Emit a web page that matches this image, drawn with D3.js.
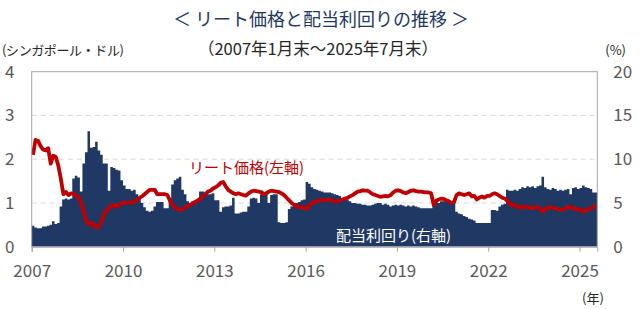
<!DOCTYPE html>
<html>
<head>
<meta charset="utf-8">
<script src="https://cdn.jsdelivr.net/npm/d3@7"></script>
<style>
body { margin: 0; background: #fff; }
text { font-family: "Noto Sans CJK JP", "Noto Sans", sans-serif; }
</style>
</head>
<body>
<svg id="chart" width="644" height="309"></svg>
<script>
// リート価格 (シンガポール・ドル), 月末, 2007年1月～2025年7月
var priceSGD = [
  2.10, 2.44, 2.42, 2.30, 2.22, 2.20, 2.25, 1.90, 2.08, 2.05, 1.85, 1.55, // 2007
  1.20, 1.25, 1.18, 1.22, 1.20, 1.18, 1.12, 1.00, 0.80, 0.60, 0.50, 0.55, // 2008
  0.50, 0.43, 0.47, 0.58, 0.75, 0.82, 0.88, 0.94, 0.95, 0.91, 0.96, 1.00, // 2009
  1.00, 1.00, 1.02, 1.00, 1.02, 1.08, 1.12, 1.15, 1.20, 1.25, 1.30, 1.30, // 2010
  1.30, 1.20, 1.20, 1.20, 1.20, 1.18, 1.05, 0.95, 0.90, 0.86, 0.84, 0.86, // 2011
  0.90, 0.93, 0.95, 1.00, 1.02, 1.06, 1.10, 1.15, 1.20, 1.26, 1.28, 1.33, // 2012
  1.36, 1.40, 1.46, 1.48, 1.38, 1.30, 1.26, 1.22, 1.20, 1.22, 1.20, 1.18, // 2013
  1.17, 1.22, 1.26, 1.28, 1.27, 1.26, 1.25, 1.20, 1.22, 1.26, 1.28, 1.27, // 2014
  1.26, 1.25, 1.22, 1.18, 1.12, 1.06, 1.00, 0.95, 0.92, 0.90, 0.92, 0.88, // 2015
  0.86, 0.95, 1.00, 1.02, 1.04, 1.06, 1.07, 1.07, 1.06, 1.08, 1.06, 1.03, // 2016
  1.03, 1.06, 1.08, 1.10, 1.12, 1.15, 1.18, 1.22, 1.26, 1.27, 1.29, 1.28, // 2017
  1.28, 1.24, 1.20, 1.18, 1.16, 1.14, 1.15, 1.16, 1.15, 1.18, 1.24, 1.28, // 2018
  1.29, 1.27, 1.24, 1.22, 1.25, 1.28, 1.29, 1.27, 1.26, 1.26, 1.25, 1.24, // 2019
  1.24, 1.22, 0.95, 1.05, 1.08, 1.10, 1.09, 1.06, 1.04, 1.00, 1.02, 1.18, // 2020
  1.22, 1.20, 1.18, 1.20, 1.22, 1.15, 1.16, 1.08, 1.12, 1.15, 1.12, 1.16, // 2021
  1.16, 1.20, 1.22, 1.20, 1.16, 1.12, 1.10, 1.05, 0.98, 0.94, 0.95, 0.92, // 2022
  0.89, 0.91, 0.90, 0.92, 0.88, 0.88, 0.90, 0.91, 0.86, 0.80, 0.85, 0.91, // 2023
  0.90, 0.88, 0.88, 0.86, 0.84, 0.85, 0.88, 0.90, 0.92, 0.88, 0.85, 0.86, // 2024
  0.84, 0.80, 0.82, 0.86, 0.88, 0.90, 0.95                                // 2025
];

// 配当利回り (%)
var dividendYield = [
  2.4, 2.2, 2.1, 2.1, 2.3, 2.3, 2.4, 2.5, 2.9, 2.6, 2.7, 4.6,   // 2007
  5.4, 5.5, 5.4, 5.5, 7.8, 8.1, 7.9, 6.3, 9.5, 10.8, 13.2, 11.3, // 2008
  11.4, 12.0, 11.0, 10.5, 9.5, 9.5, 6.4, 9.1, 9.0, 8.8, 8.7, 7.6, // 2009
  7.0, 6.6, 6.6, 6.4, 6.5, 6.0, 5.7, 5.0, 4.5, 4.1, 4.0, 4.1,   // 2010
  4.6, 5.1, 5.1, 5.1, 4.4, 4.4, 5.6, 7.1, 7.6, 7.8, 8.0, 6.5,   // 2011
  6.0, 5.2, 5.0, 5.2, 5.3, 5.4, 6.3, 6.3, 6.2, 6.0, 6.0, 6.1,   // 2012
  5.3, 5.3, 4.0, 4.5, 4.6, 4.6, 4.7, 5.6, 3.8, 3.8, 3.9, 4.0,   // 2013
  4.0, 4.6, 5.5, 5.6, 5.5, 5.0, 6.0, 6.2, 6.1, 5.0, 5.9, 6.0,   // 2014
  6.0, 2.8, 2.7, 2.7, 2.8, 4.3, 4.6, 5.0, 5.0, 5.1, 5.3, 5.4,   // 2015
  7.4, 7.2, 6.8, 6.6, 6.5, 6.4, 6.3, 6.2, 6.2, 6.2, 6.1, 6.0,   // 2016
  5.9, 5.8, 5.5, 5.4, 5.4, 5.2, 5.0, 5.0, 4.9, 4.9, 4.8, 4.8,   // 2017
  4.7, 4.7, 4.8, 4.9, 5.0, 5.0, 4.8, 4.9, 4.8, 4.6, 4.7, 4.8,   // 2018
  4.7, 4.8, 4.7, 4.6, 4.7, 4.6, 4.7, 4.6, 4.5, 4.4, 4.4, 4.4,   // 2019
  4.4, 4.4, 5.2, 5.1, 5.0, 5.2, 5.2, 5.3, 5.2, 5.2, 5.3, 4.0,   // 2020
  3.8, 3.7, 3.5, 3.4, 3.2, 3.1, 3.0, 2.7, 2.7, 2.7, 2.7, 2.7,   // 2021
  2.7, 4.2, 4.2, 4.1, 4.6, 4.8, 4.9, 6.5, 6.4, 6.4, 6.5, 6.4,   // 2022
  6.6, 6.8, 6.7, 6.9, 6.8, 6.9, 6.7, 6.9, 7.0, 8.0, 6.8, 6.6,   // 2023
  6.5, 6.7, 6.6, 6.4, 6.5, 6.4, 6.5, 6.6, 6.0, 6.7, 6.8, 6.6,   // 2024
  6.7, 7.0, 6.8, 6.7, 6.6, 6.2, 6.2                             // 2025
];

var startYear = 2007;
var xTickYears = [2007, 2010, 2013, 2016, 2019, 2022, 2025];
var leftTicks = [0, 1, 2, 3, 4];
var rightTicks = [0, 5, 10, 15, 20];

var svg = d3.select("#chart");
var plot = { left: 31.7, right: 597.3, top: 71.7, bottom: 246.7 };

var nMonths = priceSGD.length;
var x = d3.scaleLinear().domain([0, nMonths]).range([plot.left, plot.right]);
var yLeft = d3.scaleLinear().domain([0, 4]).range([plot.bottom, plot.top]);
var yRight = d3.scaleLinear().domain([0, 20]).range([plot.bottom, plot.top]);

// タイトル
svg.append("text")
    .attr("x", 321)
    .attr("y", 26)
    .attr("text-anchor", "middle")
    .attr("fill", "#1f3864")
    .style("font-size", "18px")
    .text("＜ リート価格と配当利回りの推移 ＞");

svg.append("text")
    .attr("x", 318)
    .attr("y", 55)
    .attr("text-anchor", "middle")
    .attr("fill", "#262626")
    .style("font-size", "16.5px")
    .text("（2007年1月末～2025年7月末）");

svg.append("text")
    .attr("x", 2)
    .attr("y", 55)
    .attr("fill", "#262626")
    .style("font-size", "13px")
    .attr("textLength", 122)
    .text("(シンガポール・ドル)");

svg.append("text")
    .attr("x", 626)
    .attr("y", 55)
    .attr("text-anchor", "end")
    .attr("fill", "#262626")
    .style("font-size", "13px")
    .text("(%)");

// グリッド線
svg.append("g")
    .selectAll("line")
    .data(leftTicks.filter(function(d){ return d > 0 && d < 4; }))
    .enter()
    .append("line")
    .attr("x1", plot.left)
    .attr("x2", plot.right)
    .attr("y1", function(d){ return yLeft(d); })
    .attr("y2", function(d){ return yLeft(d); })
    .attr("stroke", "#d9d9d9")
    .attr("stroke-width", 1)
    .attr("stroke-dasharray", "5,4");

// 配当利回り (棒)
var yieldArea = d3.area()
    .curve(d3.curveStepAfter)
    .x(function(d, i){ return x(i); })
    .y0(plot.bottom)
    .y1(function(d){ return yRight(d); });

svg.append("path")
    .datum(dividendYield.concat([dividendYield[nMonths - 1]]))
    .attr("fill", "#203864")
    .attr("d", yieldArea);

// リート価格 (線)
var priceLine = d3.line()
    .x(function(d, i){ return x(i + 0.5); })
    .y(function(d){ return yLeft(d); });

svg.append("path")
    .datum(priceSGD)
    .attr("fill", "none")
    .attr("stroke", "#c00000")
    .attr("stroke-width", 3.8)
    .attr("stroke-linejoin", "round")
    .attr("d", priceLine);

// 枠
svg.append("rect")
    .attr("x", plot.left)
    .attr("y", plot.top)
    .attr("width", plot.right - plot.left)
    .attr("height", plot.bottom - plot.top)
    .attr("fill", "none")
    .attr("stroke", "#a6a6a6")
    .attr("stroke-width", 1);

// 軸
var xAxis = d3.axisBottom(x)
    .tickValues(xTickYears.map(function(y){ return (y - startYear) * 12; }))
    .tickSize(5)
    .tickFormat(function(d){ return startYear + d / 12; });

var gx = svg.append("g")
    .attr("transform", "translate(0," + plot.bottom + ")")
    .call(xAxis);
gx.select(".domain").attr("stroke", "#a6a6a6");
gx.selectAll(".tick line").attr("stroke", "#a6a6a6");
gx.selectAll(".tick text")
    .attr("fill", "#595959")
    .attr("dy", "1.3em")
    .style("font-size", "17px");

var gl = svg.append("g")
    .attr("transform", "translate(" + plot.left + ",0)")
    .call(d3.axisLeft(yLeft).tickValues(leftTicks).tickFormat(d3.format("d")).tickSize(0).tickPadding(22));
gl.select(".domain").remove();
gl.selectAll(".tick text")
    .attr("fill", "#595959")
    .attr("text-anchor", "middle")
    .style("font-size", "17px");

var gr = svg.append("g")
    .attr("transform", "translate(" + plot.right + ",0)")
    .call(d3.axisRight(yRight).tickValues(rightTicks).tickSize(0).tickPadding(16));
gr.select(".domain").remove();
gr.selectAll(".tick text")
    .attr("fill", "#595959")
    .style("font-size", "17px");

svg.append("text")
    .attr("x", 593)
    .attr("y", 303)
    .attr("text-anchor", "middle")
    .attr("fill", "#262626")
    .style("font-size", "13px")
    .text("(年)");

// 系列ラベル
svg.append("text")
    .attr("x", 189)
    .attr("y", 173)
    .attr("fill", "#c00000")
    .style("font-size", "15px")
    .text("リート価格(左軸)");

svg.append("text")
    .attr("x", 336)
    .attr("y", 241)
    .attr("fill", "#ffffff")
    .style("font-size", "15px")
    .text("配当利回り(右軸)");
</script>
</body>
</html>
